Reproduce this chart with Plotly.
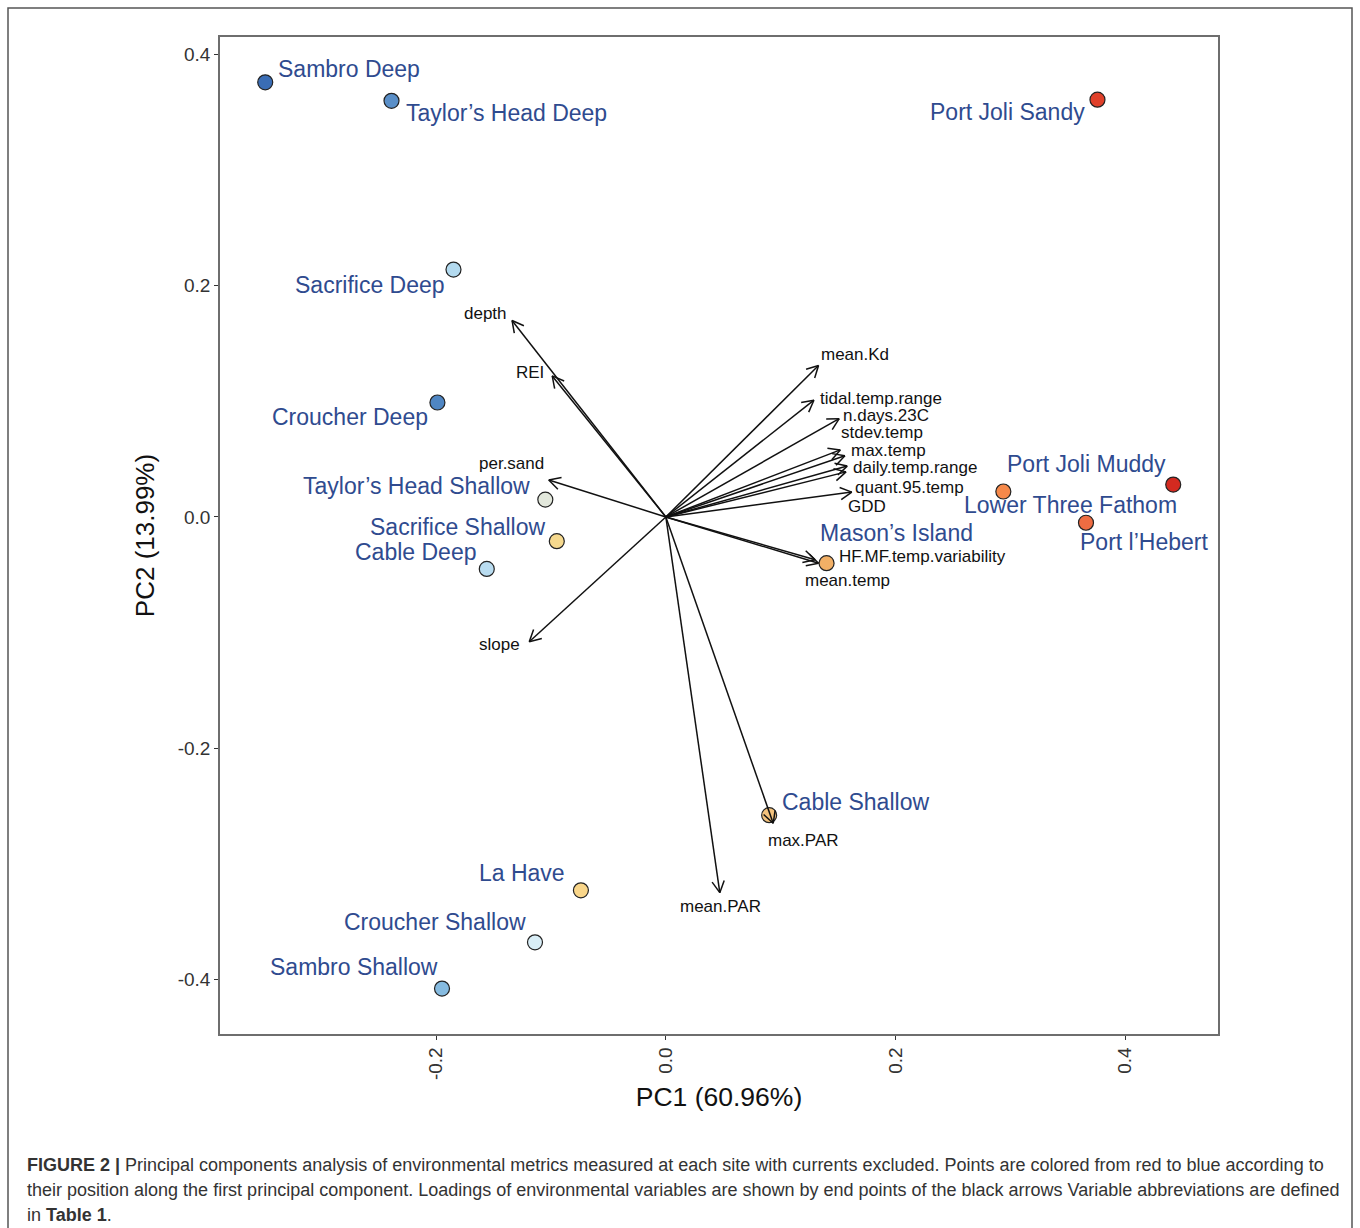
import numpy as np
import plotly.graph_objects as go

# ---- site scores (PC1, PC2) ----
sites = ["Sambro Deep", "Taylor\u2019s Head Deep", "Port Joli Sandy", "Sacrifice Deep",
         "Croucher Deep", "Taylor\u2019s Head Shallow", "Sacrifice Shallow", "Cable Deep",
         "Mason\u2019s Island", "Lower Three Fathom", "Port Joli Muddy", "Port l\u2019Hebert",
         "Cable Shallow", "La Have", "Croucher Shallow", "Sambro Shallow"]
pc1 = [-0.349, -0.239, 0.376, -0.185, -0.199, -0.105, -0.095, -0.156,
       0.140, 0.294, 0.442, 0.366, 0.090, -0.074, -0.114, -0.195]
pc2 = [0.376, 0.360, 0.361, 0.214, 0.099, 0.015, -0.021, -0.045,
       -0.040, 0.022, 0.028, -0.005, -0.258, -0.323, -0.368, -0.408]
site_colors = ["#3a6db5", "#5a8fc8", "#e0402a", "#b3daef", "#4f86c3", "#e3e8dc",
               "#f6d98e", "#b9dcf0", "#f2b066", "#f6894a", "#d42a20", "#ef6c42",
               "#f4c27c", "#f9d68a", "#d9eef7", "#86bbe0"]
# label placement relative to each point: (anchor, x shift px, y shift px)
site_label_pos = [("left", 11, 13), ("left", 12, -12), ("right", -10, -12), ("right", -6, -15),
                  ("right", -7, -14), ("right", -13, 14), ("right", -9, 14), ("right", -9, 17),
                  ("left", -9, 30), ("left", -41, -13), ("right", -5, 21), ("left", -8, -19),
                  ("left", 11, 13), ("right", -14, 17), ("right", -7, 20), ("right", -2, 22)]

# ---- variable loadings ----
variables = ["depth", "REI", "per.sand", "slope", "mean.Kd", "tidal.temp.range",
             "n.days.23C", "stdev.temp", "max.temp", "daily.temp.range",
             "quant.95.temp", "GDD", "HF.MF.temp.variability", "mean.temp",
             "max.PAR", "mean.PAR"]
load1 = [-0.134, -0.099, -0.102, -0.119, 0.133, 0.129, 0.151, 0.152,
         0.156, 0.158, 0.157, 0.162, 0.130, 0.133, 0.0935, 0.047]
load2 = [0.170, 0.122, 0.032, -0.108, 0.131, 0.101, 0.085, 0.058,
         0.053, 0.044, 0.039, 0.0215, -0.037, -0.040, -0.265, -0.325]
# label offset from arrow tip (x shift px, y shift px)
var_label_pos = [(-27, 7), (-22, 3), (-37, 16), (-30, -3), (36, 11), (67, 2),
                 (47, 3), (42, 17), (44, 5), (68, -1), (63, -16), (15, -14),
                 (107, 3), (29, -17), (30, -17), (1, -14)]

x_ticks = [-0.2, 0.0, 0.2, 0.4]
y_ticks = [-0.4, -0.2, 0.0, 0.2, 0.4]
x_title = "PC1 (60.96%)"
y_title = "PC2 (13.99%)"
caption = [
    "<b>FIGURE 2 |</b> Principal components analysis of environmental metrics measured at each site with currents excluded. Points are colored from red to blue according to",
    "their position along the first principal component. Loadings of environmental variables are shown by end points of the black arrows Variable abbreviations are defined",
    "in <b>Table 1</b>.",
]

# ---- geometry ----
W, H = 1360, 1228
ML, MR, MT, MB = 220, 142, 37, 194
xr = [-0.3884, 0.4810]
yr = [-0.4473, 0.4152]
pw, ph = W - ML - MR, H - MT - MB
sx = pw / (xr[1] - xr[0])   # px per data unit
sy = ph / (yr[1] - yr[0])

FONT = "Liberation Sans, Arial, sans-serif"
LABEL_BLUE = "#2f4b8f"

fig = go.Figure()

# site points
fig.add_trace(go.Scatter(
    x=pc1, y=pc2, mode="markers",
    marker=dict(size=15, color=site_colors, line=dict(color="#222222", width=1.2)),
    hoverinfo="text", text=sites, showlegend=False))

# loading arrows: shaft + open V head, built in pixel space
head_len, head_ang = 13.0, np.deg2rad(28)
ax_pts, ay_pts = [], []
for lx, ly in zip(load1, load2):
    ax_pts += [0.0, lx, None]
    ay_pts += [0.0, ly, None]
    px, py = lx * sx, ly * sy
    ang = np.arctan2(py, px)
    for s in (1, -1):
        a = ang + np.pi + s * head_ang
        hx = px + head_len * np.cos(a)
        hy = py + head_len * np.sin(a)
        ax_pts += [hx / sx, lx, None]
        ay_pts += [hy / sy, ly, None]
fig.add_trace(go.Scatter(
    x=ax_pts, y=ay_pts, mode="lines",
    line=dict(color="#111111", width=1.5),
    hoverinfo="skip", showlegend=False))

annotations = []
for name, x, y, (anc, dx, dy) in zip(sites, pc1, pc2, site_label_pos):
    annotations.append(dict(
        x=x, y=y, xref="x", yref="y", text=name, showarrow=False,
        xanchor=anc, yanchor="middle", xshift=dx, yshift=dy,
        font=dict(family=FONT, size=23, color=LABEL_BLUE)))
for name, x, y, (dx, dy) in zip(variables, load1, load2, var_label_pos):
    annotations.append(dict(
        x=x, y=y, xref="x", yref="y", text=name, showarrow=False,
        xanchor="center", yanchor="middle", xshift=dx, yshift=dy,
        font=dict(family=FONT, size=17, color="#111111")))

# caption lines
cap_y = [1165, 1190, 1215]
for line, yy in zip(caption, cap_y):
    annotations.append(dict(
        x=(25 - ML) / pw, y=1 - (yy - MT) / ph, xref="paper", yref="paper",
        text=line, showarrow=False, xanchor="left", yanchor="middle",
        font=dict(family=FONT, size=18, color="#333333")))

# outer frame around figure and caption
shapes = [dict(
    type="rect", xref="paper", yref="paper", layer="below",
    x0=(8 - ML) / pw, x1=(1352 - ML) / pw,
    y0=1 - (1240 - MT) / ph, y1=1 - (8 - MT) / ph,
    line=dict(color="#555555", width=1.5), fillcolor="rgba(0,0,0,0)")]

axis_common = dict(
    showgrid=False, zeroline=False, showline=True, mirror=True,
    linecolor="#6e6e6e", linewidth=1.5, ticks="outside", ticklen=4,
    tickwidth=1.3, tickcolor="#333333",
    tickfont=dict(family=FONT, size=19, color="#333333"),
)

fig.update_layout(
    width=W, height=H,
    margin=dict(l=ML, r=MR, t=MT, b=MB),
    paper_bgcolor="white", plot_bgcolor="white",
    xaxis=dict(range=xr, tickvals=x_ticks, ticktext=[f"{v:.1f}" for v in x_ticks],
               tickangle=-90,
               title=dict(text=x_title, font=dict(family=FONT, size=26.5, color="#111111"),
                          standoff=8),
               **axis_common),
    yaxis=dict(range=yr, tickvals=y_ticks, ticktext=[f"{v:.1f}" for v in y_ticks],
               title=dict(text=y_title, font=dict(family=FONT, size=26, color="#111111"),
                          standoff=16),
               **axis_common),
    annotations=annotations, shapes=shapes,
)

fig.write_html("out.html")
